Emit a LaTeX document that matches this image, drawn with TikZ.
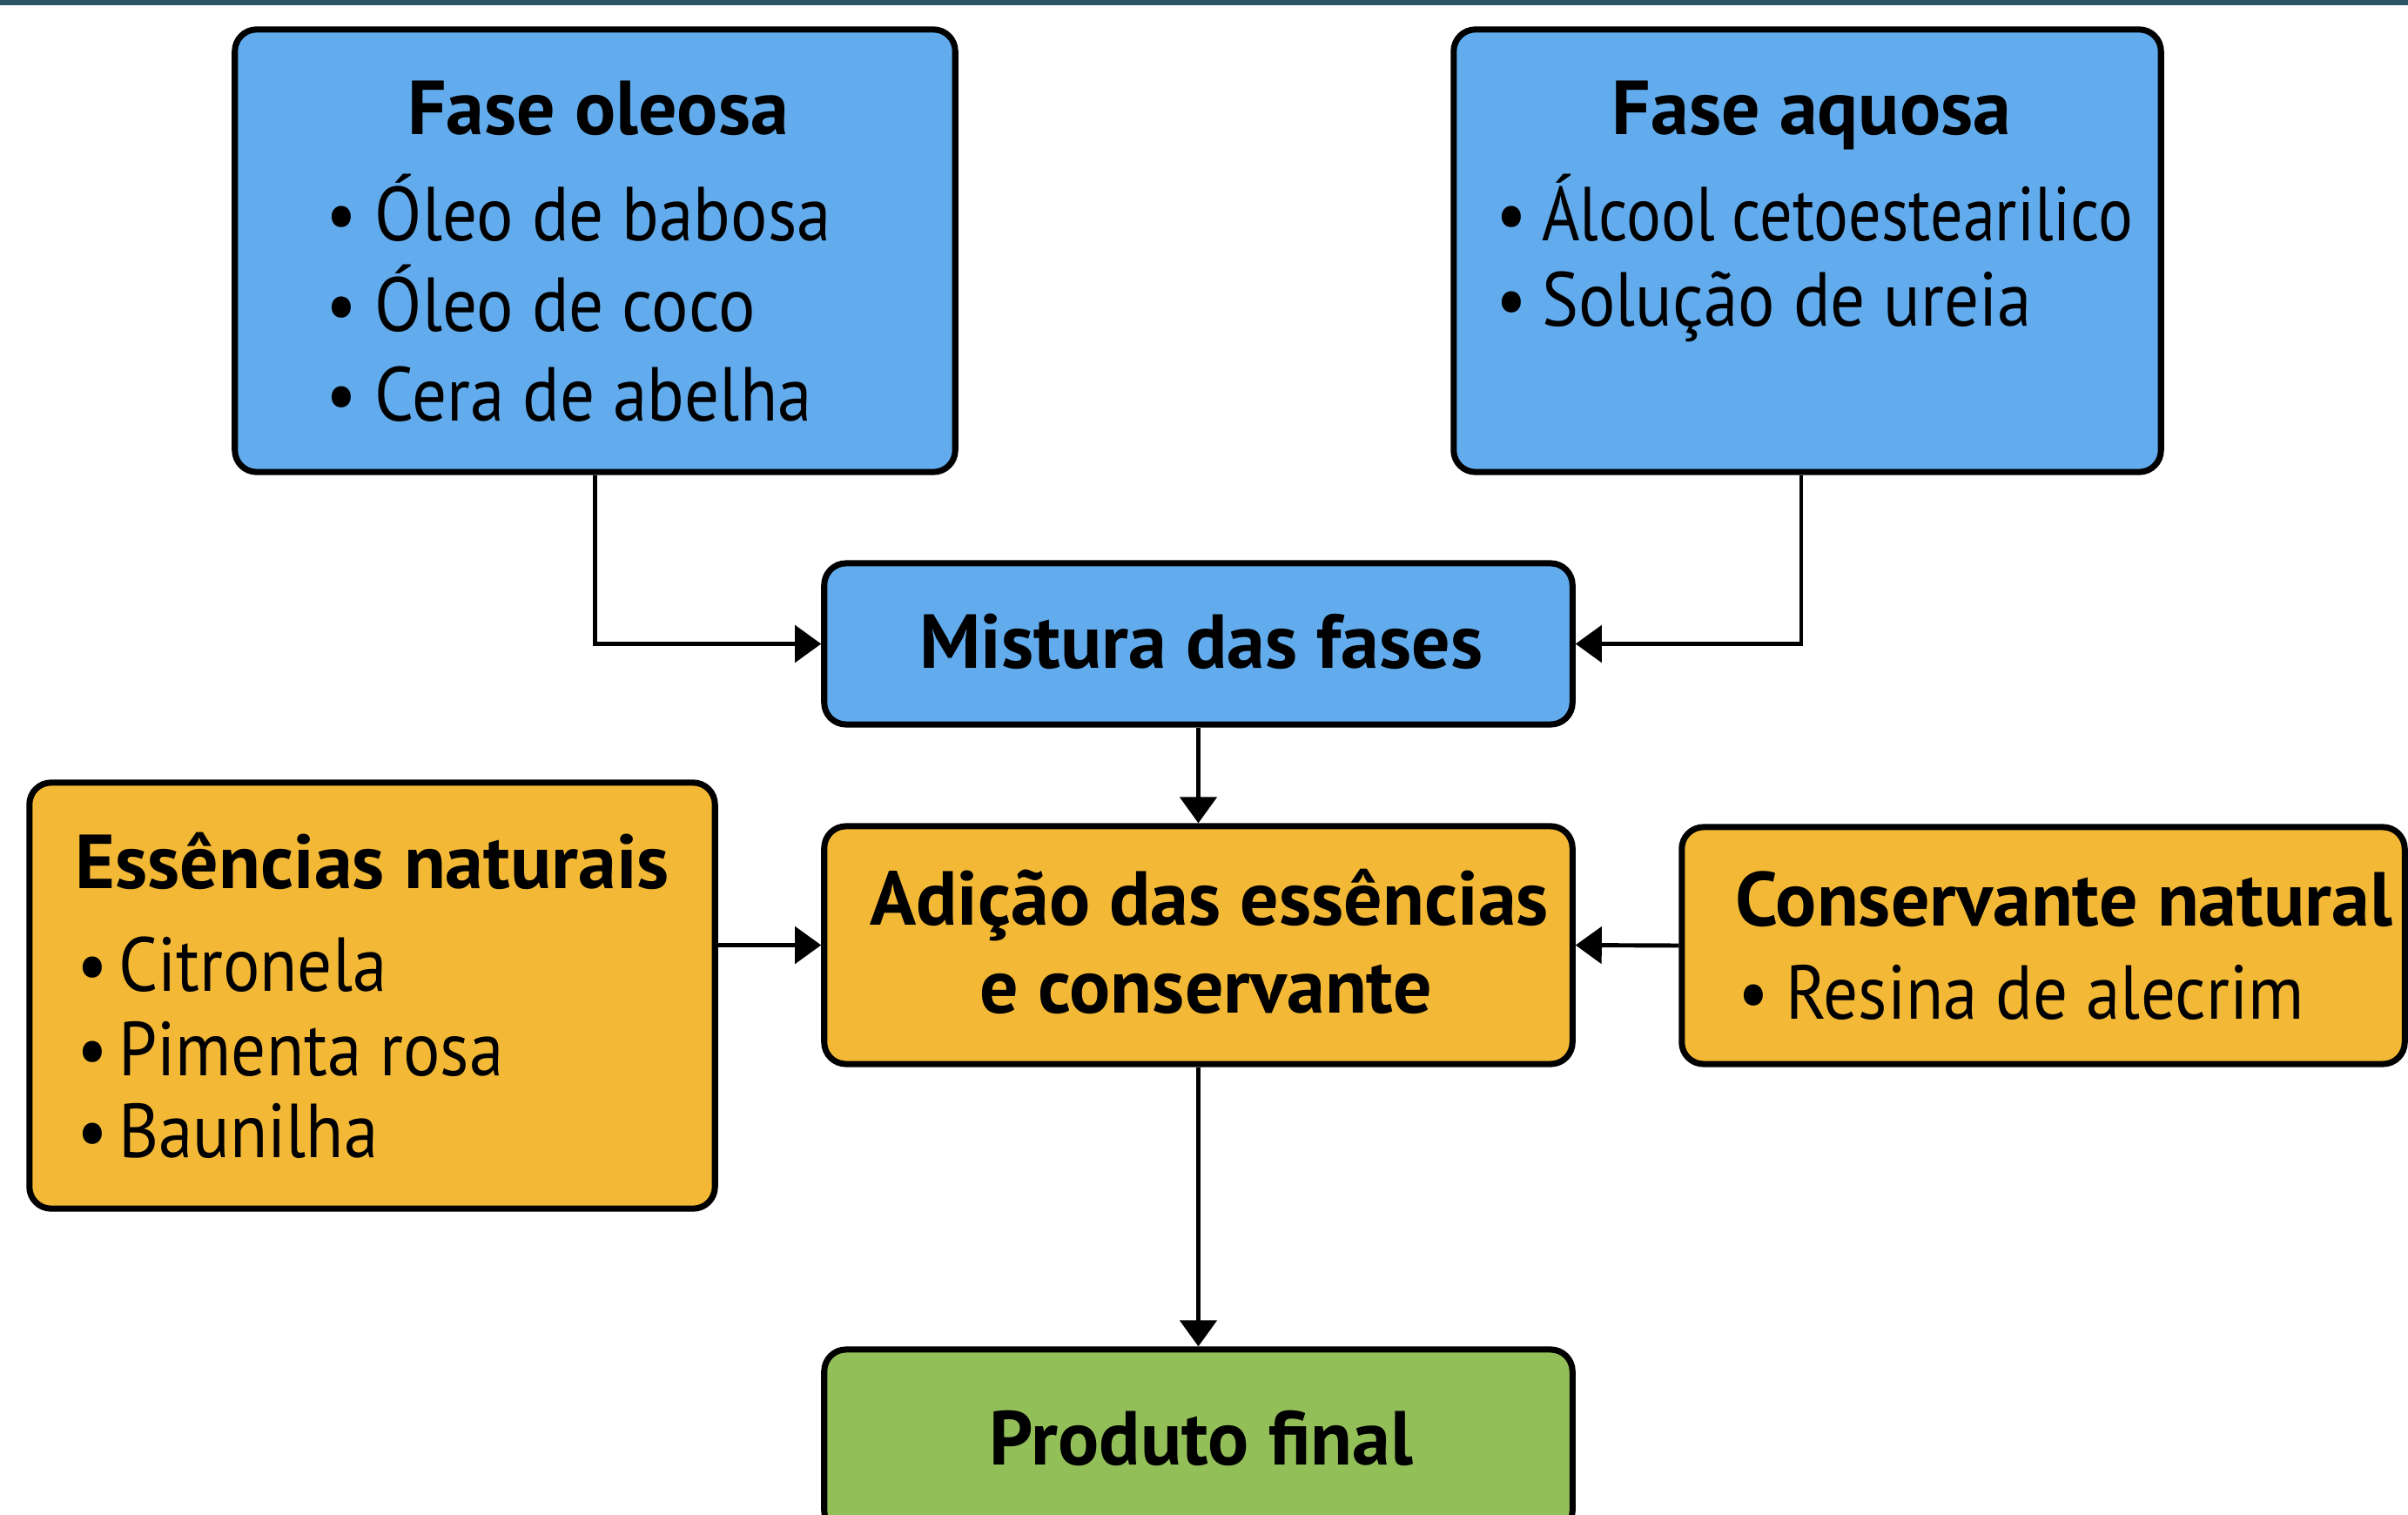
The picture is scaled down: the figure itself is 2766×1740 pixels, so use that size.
\documentclass[tikz,border=0pt]{standalone}
\usepackage{fontspec}
\usepackage{graphicx}
\setmainfont{PT Sans}[FakeStretch=0.9]
\newfontfamily\boldf{PT Sans}[FakeStretch=1.0]
\usetikzlibrary{arrows.meta}
\definecolor{cblue}{RGB}{98,172,237}
\definecolor{cyellow}{RGB}{243,185,54}
\definecolor{cgreen}{RGB}{147,191,88}
\definecolor{ctop}{RGB}{43,84,101}
\newcommand{\bul}[1]{\makebox[#1][l]{•}}
\tikzset{
  box/.style={draw=black, line width=2pt, rounded corners=0.25cm, inner sep=0pt},
  ttl/.style={inner sep=0pt, anchor=base, font=\fontsize{25}{30}\boldf\bfseries},
  ttlw/.style={inner sep=0pt, anchor=base west, font=\fontsize{25}{30}\boldf\bfseries},
  itm/.style={inner sep=0pt, anchor=base west, font=\fontsize{25}{30}\selectfont},
  arr/.style={line width=1.4pt, -{Triangle[length=0.3cm,width=0.42cm]}}
}
\begin{document}
\begin{tikzpicture}[x=0.01cm,y=-0.01cm]
\useasboundingbox (0,0) rectangle (2766,1740);
\clip (0,0) rectangle (2766,1740);
\fill[white] (0,0) rectangle (2766,1740);
\fill[ctop] (0,0) rectangle (2766,6);
% boxes
\node[box, fill=cblue, minimum width=8.27cm, minimum height=5.08cm] (ol) at (683.5,288) {};
\node[box, fill=cblue, minimum width=8.12cm, minimum height=5.08cm] (aq) at (2076,288) {};
\node[box, fill=cblue, minimum width=8.59cm, minimum height=1.85cm] (mi) at (1376.5,739.5) {};
\node[box, fill=cyellow, minimum width=8.59cm, minimum height=2.73cm] (ad) at (1376.5,1085.5) {};
\node[box, fill=cyellow, minimum width=7.87cm, minimum height=4.89cm] (es) at (427.5,1143.5) {};
\node[box, fill=cyellow, minimum width=8.30cm, minimum height=2.72cm] (co) at (2347,1086) {};
\node[box, fill=cgreen, minimum width=8.59cm, minimum height=2.10cm] (pr) at (1376.5,1655) {};
% texts
\node[ttl] (olt) at (687,155) {Fase oleosa};
\node[itm] (ol1) at (374,277) {\bul{16pt}Óleo de babosa};
\node[itm] (ol2) at (374,381) {\bul{16pt}Óleo de coco};
\node[itm] (ol3) at (374,484) {\bul{16pt}Cera de abelha};
\node[ttl] (aqt) at (2081,155) {Fase aquosa};
\node[itm] (aq1) at (1718,277) {\bul{15pt}\scalebox{0.94}[1]{Álcool cetoestearilico}};
\node[itm] (aq2) at (1718,375) {\bul{15pt}Solução de ureia};
\node[ttl] (mit) at (1380,768) {Mistura das fases};
\node[ttl] (ad1) at (1389,1062) {Adição das essências};
\node[ttl] (ad2) at (1385,1163) {e conservante};
\node[ttlw] (est) at (86,1021) {Essências naturais};
\node[itm] (es1) at (88,1138) {\bul{13.5pt}Citronela};
\node[itm] (es2) at (88,1235) {\bul{13.5pt}Pimenta rosa};
\node[itm] (es3) at (88,1329) {\bul{13.5pt}Baunilha};
\node[ttlw] (cot) at (1993,1063) {Conservante natural};
\node[itm] (co1) at (1996,1170) {\bul{15.5pt}Resina de alecrim};
\node[ttl] (prt) at (1380,1682) {Produto final};
% connectors
\draw[arr] (ol.south) |- (mi.west);
\draw[arr] ([xshift=-0.07cm]aq.south) |- (mi.east);
\draw[arr] (mi.south) -- (ad.north);
\draw[arr] (es.east |- ad.west) -- (ad.west);
\draw[arr] (co.west) -- (ad.east);
\draw[arr] (ad.south) -- (pr.north);
\end{tikzpicture}
\end{document}
